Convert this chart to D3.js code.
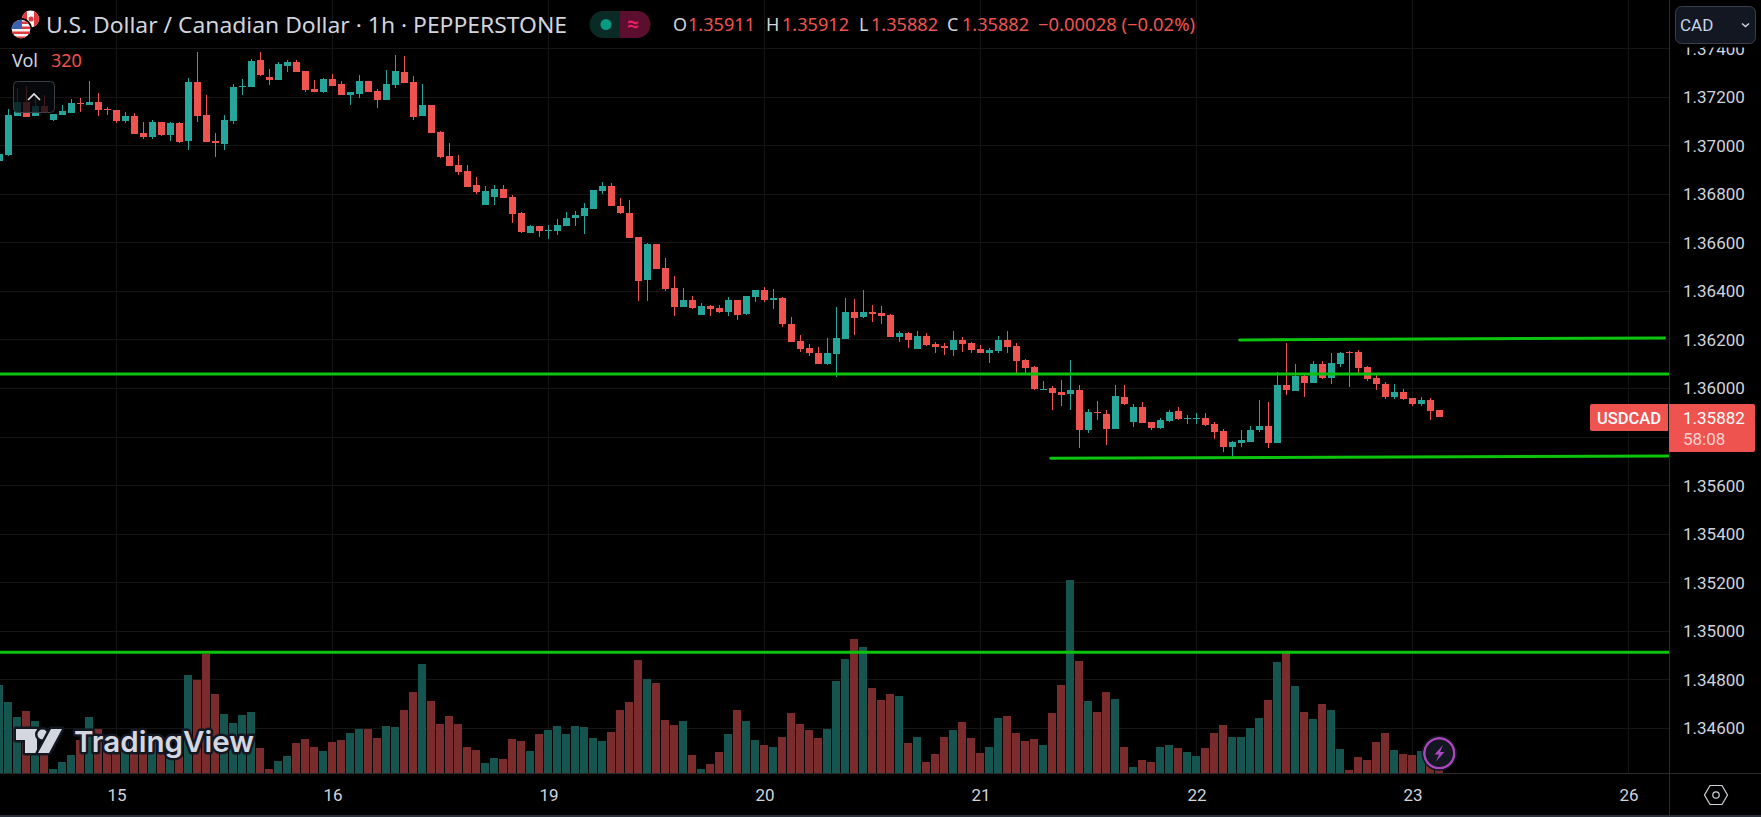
<!DOCTYPE html>
<html>
<head>
<meta charset="utf-8">
<title>USDCAD 1h</title>
<script src="https://cdn.jsdelivr.net/npm/d3@7"></script>
<style>
  html, body { margin: 0; padding: 0; background: #000; overflow: hidden; }
  text { font-family: "Noto Sans", Roboto, sans-serif; }
</style>
</head>
<body>
<div id="chart"></div>
<script>
const opens = [
  1.36937,1.36962,1.37122,1.37180,1.37122,1.37163,1.37106,1.37126,1.37135,1.37176,
  1.37168,1.37180,1.37151,1.37147,1.37102,1.37122,1.37052,1.37036,1.37097,1.37044,
  1.37093,1.37019,1.37262,1.37126,1.37019,1.37007,1.37102,1.37242,1.37242,1.37353,
  1.37283,1.37270,1.37328,1.37345,1.37308,1.37233,1.37221,1.37275,1.37254,1.37209,
  1.37213,1.37266,1.37225,1.37188,1.37250,1.37304,1.37262,1.37122,1.37168,1.37056,
  1.36957,1.36920,1.36896,1.36838,1.36756,1.36789,1.36822,1.36789,1.36723,1.36640,
  1.36669,1.36649,1.36649,1.36669,1.36702,1.36710,1.36739,1.36813,1.36834,1.36751,
  1.36723,1.36624,1.36447,1.36595,1.36496,1.36414,1.36335,1.36364,1.36302,1.36340,
  1.36331,1.36315,1.36364,1.36307,1.36377,1.36405,1.36364,1.36373,1.36265,1.36195,
  1.36167,1.36146,1.36101,1.36142,1.36204,1.36315,1.36294,1.36315,1.36311,1.36302,
  1.36212,1.36228,1.36163,1.36216,1.36183,1.36175,1.36158,1.36200,1.36187,1.36163,
  1.36146,1.36154,1.36200,1.36175,1.36117,1.36088,1.35994,1.36002,1.35985,1.35977,
  1.35994,1.35829,1.35903,1.35895,1.35833,1.35965,1.35862,1.35924,1.35862,1.35837,
  1.35866,1.35907,1.35874,1.35874,1.35878,1.35854,1.35825,1.35759,1.35775,1.35779,
  1.35829,1.35845,1.35775,1.36014,1.35990,1.36051,1.36022,1.36101,1.36043,1.36101,
  1.36150,1.36150,1.36088,1.36043,1.36018,1.35965,1.35985,1.35961,1.35936,1.35952,
  1.35911];
const highs = [
  1.36966,1.37151,1.37238,1.37246,1.37200,1.37209,1.37130,1.37168,1.37192,1.37196,
  1.37266,1.37217,1.37159,1.37147,1.37139,1.37135,1.37097,1.37106,1.37097,1.37097,
  1.37097,1.37279,1.37386,1.37209,1.37052,1.37126,1.37254,1.37275,1.37357,1.37386,
  1.37316,1.37345,1.37353,1.37353,1.37308,1.37270,1.37279,1.37296,1.37266,1.37221,
  1.37291,1.37266,1.37233,1.37312,1.37373,1.37369,1.37287,1.37254,1.37168,1.37060,
  1.37011,1.36962,1.36920,1.36871,1.36834,1.36838,1.36838,1.36797,1.36727,1.36673,
  1.36669,1.36673,1.36698,1.36727,1.36731,1.36764,1.36817,1.36850,1.36846,1.36784,
  1.36776,1.36624,1.36599,1.36595,1.36537,1.36463,1.36414,1.36381,1.36352,1.36344,
  1.36344,1.36377,1.36364,1.36381,1.36405,1.36418,1.36410,1.36377,1.36294,1.36220,
  1.36183,1.36171,1.36208,1.36335,1.36373,1.36368,1.36405,1.36344,1.36340,1.36307,
  1.36237,1.36232,1.36237,1.36228,1.36191,1.36187,1.36237,1.36212,1.36191,1.36179,
  1.36167,1.36216,1.36237,1.36187,1.36121,1.36092,1.36031,1.36010,1.36035,1.36117,
  1.36014,1.35915,1.35948,1.35911,1.36014,1.36014,1.35936,1.35944,1.35862,1.35878,
  1.35911,1.35924,1.35891,1.35899,1.35899,1.35862,1.35833,1.35784,1.35829,1.35845,
  1.35952,1.35944,1.36068,1.36187,1.36101,1.36055,1.36113,1.36113,1.36146,1.36150,
  1.36154,1.36158,1.36092,1.36055,1.36027,1.36018,1.35998,1.35961,1.35965,1.35961,
  1.35912];
const lows = [
  1.36937,1.36957,1.37122,1.37118,1.37122,1.37135,1.37102,1.37126,1.37135,1.37139,
  1.37168,1.37122,1.37126,1.37093,1.37093,1.37048,1.37027,1.37027,1.37040,1.37019,
  1.37011,1.36982,1.37097,1.37015,1.36953,1.36982,1.37089,1.37209,1.37242,1.37287,
  1.37250,1.37270,1.37304,1.37304,1.37221,1.37221,1.37217,1.37246,1.37209,1.37168,
  1.37196,1.37221,1.37155,1.37188,1.37238,1.37258,1.37106,1.37122,1.37052,1.36949,
  1.36916,1.36879,1.36830,1.36801,1.36756,1.36756,1.36784,1.36681,1.36640,1.36640,
  1.36624,1.36616,1.36632,1.36669,1.36669,1.36636,1.36739,1.36801,1.36751,1.36719,
  1.36620,1.36360,1.36360,1.36492,1.36401,1.36298,1.36335,1.36327,1.36302,1.36298,
  1.36311,1.36298,1.36282,1.36302,1.36356,1.36356,1.36327,1.36253,1.36191,1.36150,
  1.36134,1.36101,1.36097,1.36047,1.36204,1.36220,1.36290,1.36274,1.36265,1.36212,
  1.36191,1.36167,1.36163,1.36175,1.36146,1.36138,1.36134,1.36150,1.36146,1.36146,
  1.36105,1.36146,1.36146,1.36060,1.36055,1.35994,1.35994,1.35911,1.35928,1.35911,
  1.35755,1.35817,1.35870,1.35767,1.35833,1.35932,1.35841,1.35858,1.35829,1.35833,
  1.35862,1.35870,1.35854,1.35854,1.35845,1.35792,1.35738,1.35717,1.35759,1.35779,
  1.35821,1.35755,1.35775,1.35973,1.35990,1.35965,1.36022,1.36039,1.36018,1.36088,
  1.36006,1.36060,1.36031,1.35994,1.35957,1.35957,1.35952,1.35928,1.35928,1.35870,
  1.35882];
const closes = [
  1.36966,1.37126,1.37180,1.37118,1.37163,1.37135,1.37130,1.37143,1.37176,1.37172,
  1.37180,1.37147,1.37147,1.37102,1.37122,1.37048,1.37036,1.37097,1.37044,1.37093,
  1.37015,1.37262,1.37122,1.37015,1.37011,1.37106,1.37242,1.37246,1.37349,1.37291,
  1.37270,1.37337,1.37345,1.37304,1.37229,1.37221,1.37275,1.37246,1.37209,1.37221,
  1.37266,1.37221,1.37188,1.37254,1.37308,1.37258,1.37118,1.37168,1.37052,1.36953,
  1.36916,1.36892,1.36830,1.36809,1.36813,1.36822,1.36784,1.36719,1.36644,1.36669,
  1.36649,1.36653,1.36673,1.36702,1.36714,1.36743,1.36817,1.36834,1.36751,1.36723,
  1.36620,1.36443,1.36595,1.36492,1.36410,1.36335,1.36364,1.36331,1.36340,1.36327,
  1.36315,1.36364,1.36302,1.36381,1.36405,1.36364,1.36373,1.36265,1.36191,1.36163,
  1.36146,1.36101,1.36146,1.36208,1.36315,1.36290,1.36315,1.36307,1.36298,1.36212,
  1.36228,1.36200,1.36216,1.36179,1.36171,1.36167,1.36200,1.36183,1.36158,1.36146,
  1.36158,1.36200,1.36171,1.36113,1.36084,1.35998,1.35998,1.35981,1.35973,1.35994,
  1.35829,1.35903,1.35899,1.35833,1.35969,1.35936,1.35924,1.35858,1.35837,1.35870,
  1.35903,1.35874,1.35878,1.35878,1.35849,1.35821,1.35759,1.35779,1.35788,1.35829,
  1.35845,1.35775,1.36014,1.35994,1.36051,1.36022,1.36101,1.36043,1.36105,1.36146,
  1.36146,1.36084,1.36039,1.36018,1.35965,1.35985,1.35957,1.35936,1.35952,1.35907,
  1.35882];
const volumes = [
  8830,7130,5630,6230,5230,2500,400,1130,1830,3330,
  5630,4430,3300,3000,3330,3300,2670,3330,2000,1670,
  1670,9830,9330,11930,7930,5930,5030,5830,6130,2530,
  400,1230,1730,3030,3430,2630,2230,3130,3330,4030,
  4430,4430,3530,4730,4630,6330,8130,10930,7230,4930,
  5730,4930,2630,2330,1030,1530,1430,3430,3230,2230,
  3930,4330,4730,3930,4730,4630,3530,3230,4130,6330,
  7130,11330,9430,9030,5330,4830,5230,1830,430,930,
  2130,3930,6330,5230,3330,2830,2630,3630,6030,4930,
  4330,3530,4430,9230,11430,13400,12630,8530,7330,7930,
  7730,3030,3630,1130,1930,3630,4330,5130,3530,2030,
  2630,5530,5730,4030,3230,3430,2830,6030,8830,19330,
  11230,7230,6130,8130,7430,2630,630,1330,1130,2630,
  2830,2530,2130,1730,2530,4030,4830,3630,3630,4530,
  5530,7330,11130,12130,8730,6130,5430,6930,6330,2430,
  330,1630,1330,3130,4030,2330,1930,1830,2230,1000,
  320];

const priceTicks = [1.374,1.372,1.370,1.368,1.366,1.364,1.362,1.360,1.358,1.356,1.354,1.352,1.350,1.348,1.346];
const hiddenTick = 1.358; // sits under the live price tag
const dayTicks = [13,37,61,85,109,133,157,181];
const dayLabels = ["15","16","19","20","21","22","23","26"];

// horizontal levels and the two drawn trend lines (bar index, price)
const levels = [1.36060, 1.34914];
const trendTop = [[137.8,1.36200],[185,1.36208]];
const trendBottom = [[116.8,1.35713],[185.4,1.35722]];

const width = 1761, height = 817, plotRight = 1669, plotBottom = 773;
const upColor = "#26a69a", downColor = "#ef5350";
const upVol = "#16544f", downVol = "#7a2c2c", lineColor = "#0cc40c", gridColor = "#151515";
const textColor = "#d1d4dc";

const bars = opens.map(function(o, i) {
  return {i: i, o: o, h: highs[i], l: lows[i], c: closes[i], v: volumes[i], up: closes[i] >= o};
});

const x = d3.scaleLinear().domain([0, 160]).range([-0.5, 1439.5]);
const y = d3.scaleLinear().domain([1.374, 1.346]).range([48.55, 728.4]);
const yVol = d3.scaleLinear().domain([0, 19330]).range([plotBottom, plotBottom - 193.3]);

const svg = d3.select("#chart").append("svg")
  .attr("width", width).attr("height", height)
  .style("display", "block");

svg.append("rect").attr("width", width).attr("height", height).attr("fill", "#000");

const defs = svg.append("defs");
defs.append("clipPath").attr("id", "plotClip").append("rect")
  .attr("width", plotRight).attr("height", plotBottom);
defs.append("clipPath").attr("id", "usClip").append("circle").attr("cx", 21).attr("cy", 29).attr("r", 9.3);
defs.append("clipPath").attr("id", "caClip").append("circle").attr("cx", 30.5).attr("cy", 19).attr("r", 8.5);

const plot = svg.append("g").attr("clip-path", "url(#plotClip)");

// grid
plot.append("g").selectAll("line").data(priceTicks).enter().append("line")
  .attr("x1", 0).attr("x2", plotRight)
  .attr("y1", function(d) { return Math.floor(y(d)) + 0.5; })
  .attr("y2", function(d) { return Math.floor(y(d)) + 0.5; })
  .attr("stroke", gridColor);
plot.append("g").selectAll("line").data(dayTicks).enter().append("line")
  .attr("x1", function(d) { return x(d); }).attr("x2", function(d) { return x(d); })
  .attr("y1", 0).attr("y2", plotBottom)
  .attr("stroke", gridColor);

// volume
plot.append("g").selectAll("rect").data(bars).enter().append("rect")
  .attr("x", function(d) { return x(d.i) - 4.5; })
  .attr("width", 8)
  .attr("y", function(d) { return yVol(d.v); })
  .attr("height", function(d) { return plotBottom - yVol(d.v); })
  .attr("fill", function(d) { return d.up ? upVol : downVol; })
  .attr("shape-rendering", "crispEdges");

// candles
const candle = plot.append("g").selectAll("g").data(bars).enter().append("g");
candle.append("line")
  .attr("x1", function(d) { return x(d.i); }).attr("x2", function(d) { return x(d.i); })
  .attr("y1", function(d) { return y(d.h); }).attr("y2", function(d) { return y(d.l); })
  .attr("stroke", function(d) { return d.up ? upColor : downColor; })
  .attr("shape-rendering", "crispEdges");
candle.append("rect")
  .attr("x", function(d) { return x(d.i) - 3.5; })
  .attr("width", 7)
  .attr("y", function(d) { return y(Math.max(d.o, d.c)); })
  .attr("height", function(d) { return Math.max(1, Math.abs(y(d.o) - y(d.c))); })
  .attr("fill", function(d) { return d.up ? upColor : downColor; })
  .attr("shape-rendering", "crispEdges");

// drawn lines
plot.append("g").selectAll("line").data(levels).enter().append("line")
  .attr("x1", 0).attr("x2", plotRight)
  .attr("y1", function(d) { return y(d); }).attr("y2", function(d) { return y(d); })
  .attr("stroke", lineColor).attr("stroke-width", 3);
[trendTop, trendBottom].forEach(function(t) {
  plot.append("line")
    .attr("x1", x(t[0][0])).attr("y1", y(t[0][1]))
    .attr("x2", x(t[1][0])).attr("y2", y(t[1][1]))
    .attr("stroke", lineColor).attr("stroke-width", 3).attr("stroke-linecap", "round");
});

// axes
const yAxis = d3.axisRight(y).tickValues(priceTicks.filter(function(d) { return d !== hiddenTick; }))
  .tickFormat(d3.format(".5f")).tickSize(0).tickPadding(14);
const gy = svg.append("g").attr("transform", "translate(" + plotRight + ",0)").call(yAxis);
const xAxis = d3.axisBottom(x).tickValues(dayTicks)
  .tickFormat(function(d, i) { return dayLabels[i]; }).tickSize(0).tickPadding(16);
const gx = svg.append("g").attr("transform", "translate(0," + plotBottom + ")").call(xAxis);
gy.select(".domain").remove();
gx.select(".domain").remove();
gy.selectAll("text").attr("fill", textColor).attr("font-size", 17).style("font-family", "Roboto");
gx.selectAll("text").attr("fill", textColor).attr("font-size", 17).style("font-family", "Roboto");

svg.append("line").attr("x1", plotRight + 0.5).attr("x2", plotRight + 0.5).attr("y1", 0).attr("y2", 815).attr("stroke", "#2a2a2e");
svg.append("line").attr("x1", 0).attr("x2", width).attr("y1", plotBottom + 0.5).attr("y2", plotBottom + 0.5).attr("stroke", "#2a2a2e");
svg.append("rect").attr("x", 0).attr("y", 815).attr("width", width).attr("height", 2).attr("fill", "#2a2e39");

// top right currency button
svg.append("rect").attr("x", plotRight + 1).attr("y", 0).attr("width", 92).attr("height", 47.5).attr("fill", "#000");
svg.append("rect").attr("x", 1675.5).attr("y", 6.5).attr("width", 80).attr("height", 37).attr("rx", 6)
  .attr("fill", "#131722").attr("stroke", "#3a3e4a");
svg.append("text").attr("x", 1680).attr("y", 31).text("CAD").attr("fill", "#c5d6ea").attr("font-size", 17).style("font-family", "Roboto");
svg.append("path").attr("d", "M1742 23.5l3.5 3 3.5-3").attr("fill", "none").attr("stroke", textColor).attr("stroke-width", 1.5);

// legend
svg.append("text").attr("x", 46).attr("y", 33).text("U.S. Dollar / Canadian Dollar · 1h · PEPPERSTONE")
  .attr("fill", textColor).attr("font-size", 22).attr("textLength", 521).attr("lengthAdjust", "spacingAndGlyphs");

const flag = svg.append("g");
const ca = flag.append("g").attr("clip-path", "url(#caClip)");
ca.append("rect").attr("x", 20).attr("y", 9).attr("width", 20).attr("height", 20).attr("fill", "#f4f4f4");
ca.append("rect").attr("x", 34).attr("y", 9).attr("width", 6).attr("height", 20).attr("fill", "#e0393e");
ca.append("rect").attr("x", 20).attr("y", 9).attr("width", 7).attr("height", 20).attr("fill", "#e0393e");
ca.append("circle").attr("cx", 31).attr("cy", 19).attr("r", 2.5).attr("fill", "#e0393e");
flag.append("circle").attr("cx", 21).attr("cy", 29).attr("r", 11).attr("fill", "#000");
const us = flag.append("g").attr("clip-path", "url(#usClip)");
us.append("rect").attr("x", 11).attr("y", 19).attr("width", 20).attr("height", 20).attr("fill", "#f4f4f4");
[21.5, 26.5, 31.5, 36.5].forEach(function(s) {
  us.append("rect").attr("x", 11).attr("y", s).attr("width", 20).attr("height", 2.5).attr("fill", "#e0393e");
});
us.append("rect").attr("x", 11).attr("y", 19).attr("width", 11).attr("height", 10).attr("fill", "#3a62b0");

svg.append("path").attr("d", "M603 11h17v27h-17a13.5 13.5 0 0 1 0-27z").attr("fill", "#0a2a26");
svg.append("path").attr("d", "M620 11h17a13.5 13.5 0 0 1 0 27h-17z").attr("fill", "#5c0e2e");
svg.append("circle").attr("cx", 606).attr("cy", 24.5).attr("r", 5.5).attr("fill", "#089981");
svg.append("text").attr("x", 633).attr("y", 31).attr("text-anchor", "middle").text("≈")
  .attr("fill", "#e91e63").attr("font-size", 21).attr("font-weight", 700);

const ohlc = [["O", 673, "1.35911", 688], ["H", 766, "1.35912", 782], ["L", 859, "1.35882", 871], ["C", 947, "1.35882", 962]];
ohlc.forEach(function(d) {
  svg.append("text").attr("x", d[1]).attr("y", 31).text(d[0]).attr("fill", textColor).attr("font-size", 18);
  svg.append("text").attr("x", d[3]).attr("y", 31).text(d[2]).attr("fill", downColor).attr("font-size", 18)
    .attr("textLength", 67).attr("lengthAdjust", "spacingAndGlyphs");
});
svg.append("text").attr("x", 1038).attr("y", 31).text("−0.00028 (−0.02%)").attr("fill", downColor).attr("font-size", 18)
  .attr("textLength", 157).attr("lengthAdjust", "spacingAndGlyphs");

svg.append("text").attr("x", 12).attr("y", 67).text("Vol").attr("fill", textColor).attr("font-size", 18);
svg.append("text").attr("x", 51).attr("y", 67).text("320").attr("fill", downColor).attr("font-size", 18);

svg.append("rect").attr("x", 13.5).attr("y", 81.5).attr("width", 41).attr("height", 31).attr("rx", 4)
  .attr("fill", "rgba(8,10,14,0.78)").attr("stroke", "#3a3d45");
svg.append("path").attr("d", "M28 100l6-6 6 6").attr("fill", "none").attr("stroke", "#e4e6ea").attr("stroke-width", 1.6);

// price tags
svg.append("path").attr("d", "M1592 404h76v27h-76a2 2 0 0 1-2-2v-23a2 2 0 0 1 2-2z").attr("fill", downColor);
svg.append("path").attr("d", "M1669 404h84a2 2 0 0 1 2 2v44a2 2 0 0 1-2 2h-84z").attr("fill", downColor);
svg.append("text").attr("x", 1597).attr("y", 423.5).text("USDCAD").attr("fill", "#fff").attr("font-size", 16.5).attr("font-weight", 500).style("font-family", "Roboto");
svg.append("text").attr("x", 1683).attr("y", 424).text(d3.format(".5f")(closes[160])).attr("fill", "#fff").attr("font-size", 17).style("font-family", "Roboto");
svg.append("text").attr("x", 1683).attr("y", 444.5).text("58:08").attr("fill", "#ffd2d0").attr("font-size", 17).style("font-family", "Roboto");

// tradingview logo
const logo = svg.append("g").attr("fill", "#d5d7e0").attr("stroke", "#131722").attr("stroke-width", 5)
  .attr("paint-order", "stroke").attr("stroke-linejoin", "round");
logo.append("path").attr("d", "M16 729h21v24h-12v-13h-9z");
logo.append("circle").attr("cx", 42.5).attr("cy", 734.5).attr("r", 5);
logo.append("path").attr("d", "M51 729h11l-13 24h-11z");
logo.append("text").attr("x", 74).attr("y", 751.5).text("TradingView")
  .attr("font-size", 29).attr("font-weight", 600).attr("textLength", 180).attr("lengthAdjust", "spacingAndGlyphs")
  .style("font-family", "Inter");

// lightning badge
svg.append("circle").attr("cx", 1439.3).attr("cy", 753.3).attr("r", 15).attr("fill", "#131722")
  .attr("stroke", "#ab47bc").attr("stroke-width", 2.5);
svg.append("circle").attr("cx", 1439.3).attr("cy", 753.3).attr("r", 17).attr("fill", "none").attr("stroke", "#131722").attr("stroke-width", 1.5);
svg.append("path").attr("d", "M1443 745l-8.5 9.5h4.5l-3 7 8.5-9.5h-4.5z").attr("fill", "#ab47bc");

// settings icon
svg.append("path").attr("d", "M1710 785.5h12l5.5 9.5-5.5 9.5h-12l-5.5-9.5z").attr("fill", "none").attr("stroke", textColor).attr("stroke-width", 1.2);
svg.append("circle").attr("cx", 1716).attr("cy", 795).attr("r", 3.2).attr("fill", "none").attr("stroke", textColor).attr("stroke-width", 1.2);
</script>
</body>
</html>
